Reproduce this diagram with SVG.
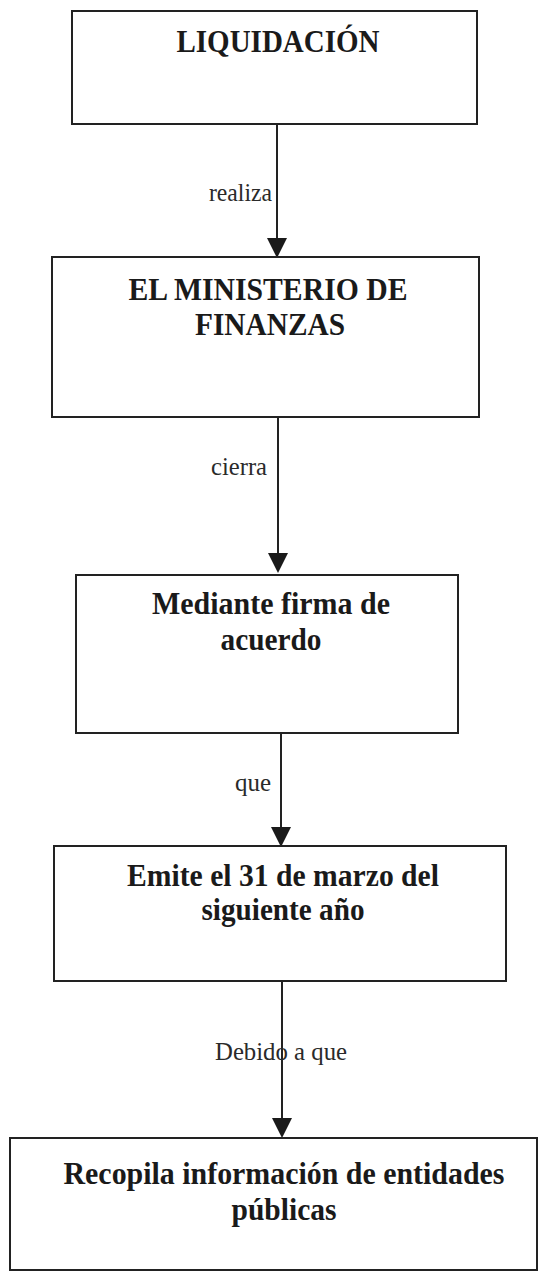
<svg xmlns="http://www.w3.org/2000/svg" width="543" height="1272" viewBox="0 0 543 1272">
<style>
.box{fill:#fff;stroke:#222;stroke-width:2}
.t{font-family:"Liberation Serif",serif;font-weight:bold;font-size:31px;fill:#1a1a1a;text-anchor:middle}
.l{font-family:"Liberation Serif",serif;font-size:25px;fill:#2a2a2a}
.c{stroke:#222;stroke-width:2;fill:none}
.h{fill:#1a1a1a}
</style>
<rect width="543" height="1272" fill="#fff"/>
<g id="connectors">
<path class="c" d="M277,124 V238"/><path class="h" d="M267,238 H287 L277,258 Z"/>
<path class="c" d="M278,417 V553"/><path class="h" d="M268,553 H288 L278,573 Z"/>
<path class="c" d="M281,733 V827"/><path class="h" d="M271,827 H291 L281,847 Z"/>
<path class="c" d="M282,981 V1118"/><path class="h" d="M272,1118 H292 L282,1138 Z"/>
<text class="l" x="209" y="201" textLength="63" lengthAdjust="spacingAndGlyphs">realiza</text>
<text class="l" x="211" y="475" textLength="56" lengthAdjust="spacingAndGlyphs">cierra</text>
<text class="l" x="235" y="791" textLength="36" lengthAdjust="spacingAndGlyphs">que</text>
<text class="l" x="215" y="1060" textLength="132" lengthAdjust="spacingAndGlyphs">Debido a que</text>
</g>
<g id="n1">
<rect class="box" x="72" y="11" width="405" height="113"/>
<text class="t" x="278" y="52" textLength="203" lengthAdjust="spacingAndGlyphs">LIQUIDACIÓN</text>
</g>
<g id="n2">
<rect class="box" x="52" y="257" width="427" height="160"/>
<text class="t" x="268" y="300" textLength="279" lengthAdjust="spacingAndGlyphs">EL MINISTERIO DE</text>
<text class="t" x="270" y="335" textLength="150" lengthAdjust="spacingAndGlyphs">FINANZAS</text>
</g>
<g id="n3">
<rect class="box" x="76" y="575" width="382" height="158"/>
<text class="t" x="271" y="614" textLength="238" lengthAdjust="spacingAndGlyphs">Mediante firma de</text>
<text class="t" x="271" y="650" textLength="101" lengthAdjust="spacingAndGlyphs">acuerdo</text>
</g>
<g id="n4">
<rect class="box" x="54" y="846" width="452" height="135"/>
<text class="t" x="283" y="886" textLength="312" lengthAdjust="spacingAndGlyphs">Emite el 31 de marzo del</text>
<text class="t" x="283" y="920" textLength="163" lengthAdjust="spacingAndGlyphs">siguiente año</text>
</g>
<g id="n5">
<rect class="box" x="10" y="1138" width="527" height="132"/>
<text class="t" x="284" y="1184" textLength="441" lengthAdjust="spacingAndGlyphs">Recopila información de entidades</text>
<text class="t" x="284" y="1220" textLength="105" lengthAdjust="spacingAndGlyphs">públicas</text>
</g>
</svg>
